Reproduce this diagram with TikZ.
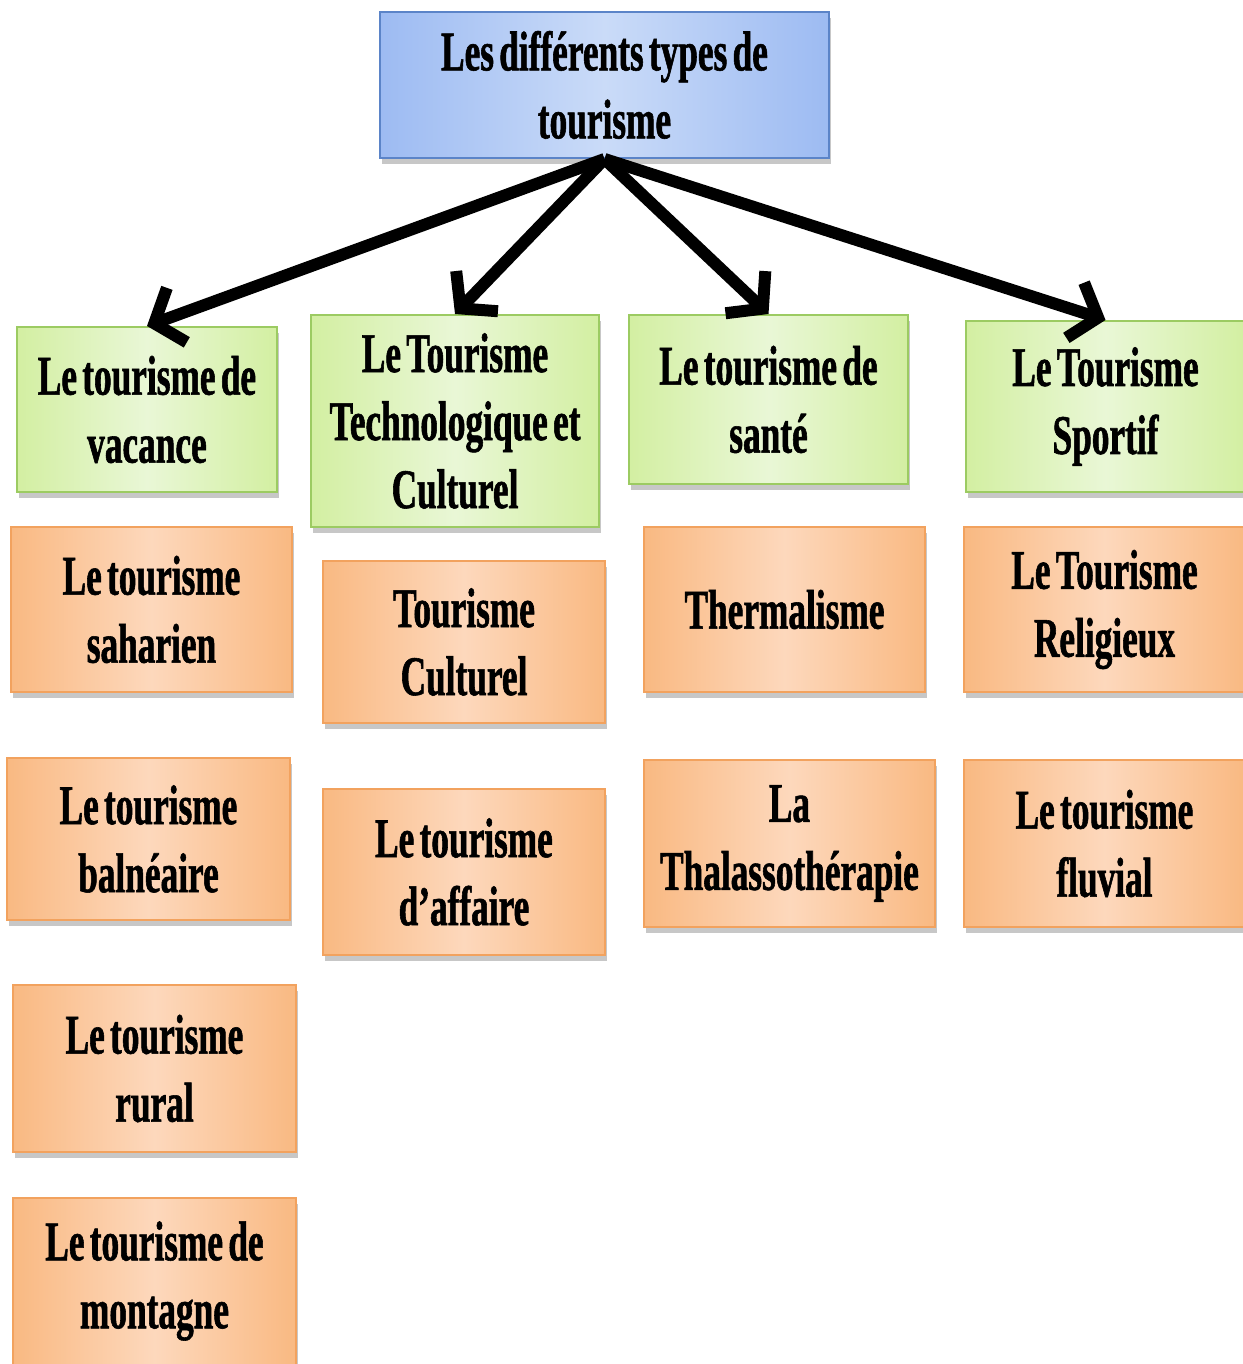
\documentclass[tikz,border=0pt]{standalone}
\usepackage{fontspec}
\setmainfont{Liberation Serif}[FakeStretch=0.63, WordSpace=0.6, BoldFeatures={FakeBold=1}]
\usetikzlibrary{arrows.meta,shadows}
\definecolor{blueE}{HTML}{9DBBF2}
\definecolor{blueM}{HTML}{CADBF8}
\definecolor{blueB}{HTML}{5B84C8}
\definecolor{greenE}{HTML}{D3EFA2}
\definecolor{greenM}{HTML}{E9F7D6}
\definecolor{greenB}{HTML}{9CCB62}
\definecolor{orangeE}{HTML}{F9B982}
\definecolor{orangeM}{HTML}{FDD8BC}
\definecolor{orangeB}{HTML}{F2A25E}
\tikzset{
  basebox/.style={draw, line width=2pt, align=center, inner sep=0pt,
    font=\fontsize{56}{68}\selectfont\bfseries,
    drop shadow={shadow xshift=2pt, shadow yshift=-6pt, fill=black, opacity=0.22}},
  bluebox/.style={basebox, draw=blueB, left color=blueE, right color=blueE, middle color=blueM},
  greenbox/.style={basebox, draw=greenB, left color=greenE, right color=greenE, middle color=greenM},
  orangebox/.style={basebox, draw=orangeB, left color=orangeE, right color=orangeE, middle color=orangeM},
  arr/.style={line width=12pt, -{Straight Barb[length=24pt,width=58pt]}}
}
\begin{document}
\begin{tikzpicture}[x=1pt,y=-1pt]
\useasboundingbox (0,0) rectangle (1242,1364);
\node[bluebox, minimum width=449pt, minimum height=146pt] (top) at (604.5,85) {Les différents types de\\tourisme};
\node[greenbox, minimum width=260pt, minimum height=165pt] (g1) at (147,409.5) {Le tourisme de\\vacance};
\node[greenbox, minimum width=288pt, minimum height=212pt] (g2) at (455,421) {Le Tourisme\\Technologique et\\Culturel};
\node[greenbox, minimum width=279pt, minimum height=169pt] (g3) at (768.5,399.5) {Le tourisme de\\santé};
\node[greenbox, minimum width=279pt, minimum height=171pt] (g4) at (1105.5,406.5) {Le Tourisme\\Sportif};
\node[orangebox, minimum width=281pt, minimum height=165pt] (o1) at (151.5,609.5) {Le tourisme\\saharien};
\node[orangebox, minimum width=283pt, minimum height=162pt] (o2) at (148.5,839) {Le tourisme\\balnéaire};
\node[orangebox, minimum width=283pt, minimum height=167pt] (o3) at (154.5,1068.5) {Le tourisme\\rural};
\node[orangebox, minimum width=283pt, minimum height=167pt] (o4) at (154.5,1281) {Le tourisme de\\montagne};
\node[orangebox, minimum width=282pt, minimum height=162pt] (o5) at (464,642) {Tourisme\\Culturel};
\node[orangebox, minimum width=282pt, minimum height=166pt] (o6) at (464,872) {Le tourisme\\d’affaire};
\node[orangebox, minimum width=281pt, minimum height=165pt] (o7) at (784.5,609.5) {Thermalisme};
\node[orangebox, minimum width=291pt, minimum height=167pt] (o8) at (789.5,843.5) {La\\Thalassothérapie};
\node[orangebox, minimum width=281pt, minimum height=165pt] (o9) at (1104.5,609.5) {Le Tourisme\\Religieux};
\node[orangebox, minimum width=281pt, minimum height=167pt] (o10) at (1104.5,843.5) {Le tourisme\\fluvial};
\draw[arr] (top.south) -- (g1.north);
\draw[arr] (top.south) -- (g2.north);
\draw[arr] (top.south) -- (g3.north);
\draw[arr] (top.south) -- (g4.north);
\end{tikzpicture}
\end{document}
